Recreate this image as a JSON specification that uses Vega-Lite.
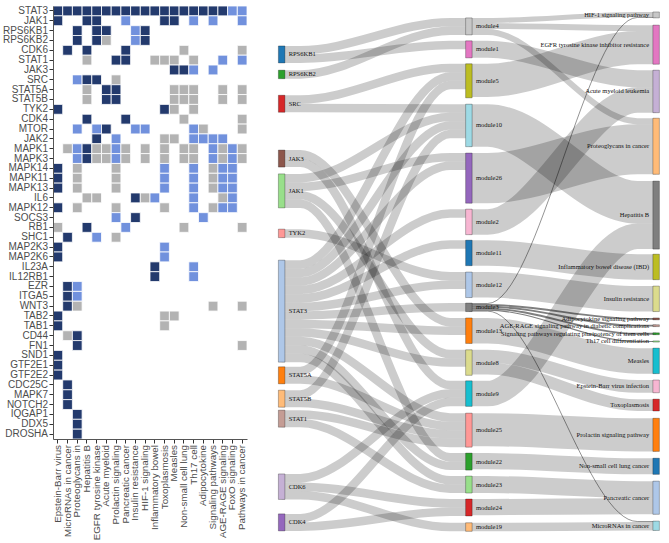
{
"$schema": "https://vega.github.io/schema/vega-lite/v6.json",
"background": "white",
"padding": {"left": 2, "top": 5, "right": 0, "bottom": 0},
"config": {"view": {"stroke": null}},
"bounds": "flush",
"spacing": 15.5,
"resolve": {"scale": {"color": "independent", "x": "independent", "y": "independent", "size": "independent"}},
"datasets": {
"nodes": [
{"n":"RPS6KB1","s":0,"y0":4.7,"y1":6.7},
{"n":"RPS6KB2","s":0,"y0":7.55,"y1":8.55},
{"n":"SRC","s":0,"y0":10.5,"y1":12.5},
{"n":"JAK3","s":0,"y0":16.95,"y1":18.95},
{"n":"JAK1","s":0,"y0":19.75,"y1":23.75},
{"n":"TYK2","s":0,"y0":26.25,"y1":27.25},
{"n":"STAT3","s":0,"y0":29.9,"y1":41.9},
{"n":"STAT5A","s":0,"y0":42.45,"y1":44.45},
{"n":"STAT5B","s":0,"y0":45.2,"y1":47.2},
{"n":"STAT1","s":0,"y0":47.55,"y1":49.55},
{"n":"CDK6","s":0,"y0":55.05,"y1":58.05},
{"n":"CDK4","s":0,"y0":59.75,"y1":61.75},
{"n":"module4","s":1,"y0":1.4,"y1":3.4},
{"n":"module1","s":1,"y0":4.1,"y1":6.1},
{"n":"module5","s":1,"y0":6.8,"y1":10.8},
{"n":"module10","s":1,"y0":11.55,"y1":16.55},
{"n":"module26","s":1,"y0":17.3,"y1":23.2},
{"n":"module2","s":1,"y0":23.9,"y1":26.9},
{"n":"module11","s":1,"y0":27.55,"y1":30.55},
{"n":"module12","s":1,"y0":31.3,"y1":34.3},
{"n":"module3","s":1,"y0":34.95,"y1":35.95},
{"n":"module13","s":1,"y0":36.7,"y1":39.7},
{"n":"module8","s":1,"y0":40.45,"y1":43.45},
{"n":"module9","s":1,"y0":44.1,"y1":47.1},
{"n":"module25","s":1,"y0":47.9,"y1":51.9},
{"n":"module22","s":1,"y0":52.6,"y1":54.6},
{"n":"module23","s":1,"y0":55.3,"y1":57.3},
{"n":"module24","s":1,"y0":58.0,"y1":60.0},
{"n":"module19","s":1,"y0":60.8,"y1":61.8},
{"n":"HIF-1 signaling pathway","s":2,"y0":0.7,"y1":1.4},
{"n":"EGFR tyrosine kinase inhibitor resistance","s":2,"y0":2.25,"y1":6.85},
{"n":"Acute myeloid leukemia","s":2,"y0":7.55,"y1":12.55},
{"n":"Proteoglycans in cancer","s":2,"y0":13.2,"y1":19.8},
{"n":"Hepatitis B","s":2,"y0":20.6,"y1":28.6},
{"n":"Inflammatory bowel disease (IBD)","s":2,"y0":29.2,"y1":32.2},
{"n":"Insulin resistance","s":2,"y0":32.95,"y1":35.95},
{"n":"Adipocytokine signaling pathway","s":2,"y0":36.7,"y1":36.92},
{"n":"AGE-RAGE signaling pathway in diabetic complications","s":2,"y0":37.5,"y1":37.72},
{"n":"Signaling pathways regulating pluripotency of stem cells","s":2,"y0":38.45,"y1":38.67},
{"n":"Th17 cell differentiation","s":2,"y0":39.4,"y1":39.54},
{"n":"Measles","s":2,"y0":40.25,"y1":43.25},
{"n":"Epstein-Barr virus infection","s":2,"y0":44.0,"y1":45.5},
{"n":"Toxoplasmosis","s":2,"y0":46.25,"y1":47.65},
{"n":"Prolactin signaling pathway","s":2,"y0":48.5,"y1":52.4},
{"n":"Non-small cell lung cancer","s":2,"y0":53.2,"y1":55.1},
{"n":"Pancreatic cancer","s":2,"y0":55.9,"y1":59.8},
{"n":"MicroRNAs in cancer","s":2,"y0":60.6,"y1":61.7}
]
},
"hconcat": [
{
"width": 194,
"height": 433,
"data": {"values": [
{"g":"STAT3","p":"Epstein-Barr virus","v":3},{"g":"STAT3","p":"MicroRNAs in cancer","v":3},{"g":"STAT3","p":"Proteoglycans in","v":3},{"g":"STAT3","p":"Hepatitis B","v":3},{"g":"STAT3","p":"EGFR tyrosine kinase","v":3},{"g":"STAT3","p":"Acute myeloid","v":3},{"g":"STAT3","p":"Prolactin signaling","v":3},{"g":"STAT3","p":"Pancreatic cancer","v":3},{"g":"STAT3","p":"Insulin resistance","v":3},{"g":"STAT3","p":"HIF-1 signaling","v":3},{"g":"STAT3","p":"Inflammatory bowel","v":3},{"g":"STAT3","p":"Toxoplasmosis","v":3},{"g":"STAT3","p":"Measles","v":3},{"g":"STAT3","p":"Non-small cell lung","v":3},{"g":"STAT3","p":"Th17 cell","v":3},{"g":"STAT3","p":"Adipocytokine","v":3},{"g":"STAT3","p":"Signaling pathways","v":3},{"g":"STAT3","p":"AGE-RAGE signaling","v":3},{"g":"STAT3","p":"FoxO signaling","v":2},{"g":"STAT3","p":"Pathways in cancer","v":2},
{"g":"JAK1","p":"Epstein-Barr virus","v":3},{"g":"JAK1","p":"Hepatitis B","v":3},{"g":"JAK1","p":"EGFR tyrosine kinase","v":3},{"g":"JAK1","p":"Pancreatic cancer","v":2},{"g":"JAK1","p":"Toxoplasmosis","v":3},{"g":"JAK1","p":"Measles","v":3},{"g":"JAK1","p":"Th17 cell","v":2},{"g":"JAK1","p":"Signaling pathways","v":2},{"g":"JAK1","p":"Pathways in cancer","v":2},
{"g":"RPS6KB1","p":"Proteoglycans in","v":3},{"g":"RPS6KB1","p":"EGFR tyrosine kinase","v":3},{"g":"RPS6KB1","p":"Acute myeloid","v":3},{"g":"RPS6KB1","p":"Insulin resistance","v":2},{"g":"RPS6KB1","p":"HIF-1 signaling","v":3},
{"g":"RPS6KB2","p":"Proteoglycans in","v":3},{"g":"RPS6KB2","p":"EGFR tyrosine kinase","v":3},{"g":"RPS6KB2","p":"Acute myeloid","v":1},{"g":"RPS6KB2","p":"Insulin resistance","v":2},{"g":"RPS6KB2","p":"HIF-1 signaling","v":3},
{"g":"CDK6","p":"MicroRNAs in cancer","v":3},{"g":"CDK6","p":"Hepatitis B","v":3},{"g":"CDK6","p":"Pancreatic cancer","v":3},{"g":"CDK6","p":"Non-small cell lung","v":1},{"g":"CDK6","p":"Pathways in cancer","v":1},
{"g":"STAT1","p":"Hepatitis B","v":1},{"g":"STAT1","p":"Prolactin signaling","v":3},{"g":"STAT1","p":"Pancreatic cancer","v":3},{"g":"STAT1","p":"Inflammatory bowel","v":1},{"g":"STAT1","p":"Toxoplasmosis","v":1},{"g":"STAT1","p":"Measles","v":1},{"g":"STAT1","p":"Th17 cell","v":1},{"g":"STAT1","p":"AGE-RAGE signaling","v":2},{"g":"STAT1","p":"Pathways in cancer","v":2},
{"g":"JAK3","p":"Measles","v":3},{"g":"JAK3","p":"Non-small cell lung","v":3},{"g":"JAK3","p":"Th17 cell","v":2},{"g":"JAK3","p":"Signaling pathways","v":2},
{"g":"SRC","p":"Proteoglycans in","v":2},{"g":"SRC","p":"Hepatitis B","v":3},{"g":"SRC","p":"EGFR tyrosine kinase","v":3},{"g":"SRC","p":"Prolactin signaling","v":1},
{"g":"STAT5A","p":"Hepatitis B","v":1},{"g":"STAT5A","p":"Acute myeloid","v":3},{"g":"STAT5A","p":"Prolactin signaling","v":3},{"g":"STAT5A","p":"Measles","v":1},{"g":"STAT5A","p":"Non-small cell lung","v":1},{"g":"STAT5A","p":"Th17 cell","v":1},{"g":"STAT5A","p":"AGE-RAGE signaling","v":1},{"g":"STAT5A","p":"Pathways in cancer","v":1},
{"g":"STAT5B","p":"Hepatitis B","v":1},{"g":"STAT5B","p":"Acute myeloid","v":3},{"g":"STAT5B","p":"Prolactin signaling","v":3},{"g":"STAT5B","p":"Measles","v":1},{"g":"STAT5B","p":"Non-small cell lung","v":1},{"g":"STAT5B","p":"Th17 cell","v":1},{"g":"STAT5B","p":"AGE-RAGE signaling","v":1},{"g":"STAT5B","p":"Pathways in cancer","v":1},
{"g":"TYK2","p":"Epstein-Barr virus","v":3},{"g":"TYK2","p":"Toxoplasmosis","v":3},{"g":"TYK2","p":"Measles","v":1},{"g":"TYK2","p":"Th17 cell","v":1},
{"g":"CDK4","p":"Hepatitis B","v":3},{"g":"CDK4","p":"Pancreatic cancer","v":3},{"g":"CDK4","p":"Non-small cell lung","v":1},{"g":"CDK4","p":"Pathways in cancer","v":1},
{"g":"MTOR","p":"Proteoglycans in","v":2},{"g":"MTOR","p":"EGFR tyrosine kinase","v":2},{"g":"MTOR","p":"Acute myeloid","v":3},{"g":"MTOR","p":"Insulin resistance","v":2},{"g":"MTOR","p":"HIF-1 signaling","v":2},{"g":"MTOR","p":"Th17 cell","v":2},{"g":"MTOR","p":"Adipocytokine","v":1},{"g":"MTOR","p":"Pathways in cancer","v":1},
{"g":"JAK2","p":"EGFR tyrosine kinase","v":3},{"g":"JAK2","p":"Prolactin signaling","v":2},{"g":"JAK2","p":"Toxoplasmosis","v":1},{"g":"JAK2","p":"Measles","v":1},{"g":"JAK2","p":"Th17 cell","v":2},{"g":"JAK2","p":"Adipocytokine","v":2},{"g":"JAK2","p":"Signaling pathways","v":2},{"g":"JAK2","p":"AGE-RAGE signaling","v":2},
{"g":"MAPK1","p":"MicroRNAs in cancer","v":1},{"g":"MAPK1","p":"Proteoglycans in","v":2},{"g":"MAPK1","p":"Hepatitis B","v":3},{"g":"MAPK1","p":"EGFR tyrosine kinase","v":1},{"g":"MAPK1","p":"Acute myeloid","v":1},{"g":"MAPK1","p":"Prolactin signaling","v":2},{"g":"MAPK1","p":"Pancreatic cancer","v":1},{"g":"MAPK1","p":"HIF-1 signaling","v":1},{"g":"MAPK1","p":"Toxoplasmosis","v":1},{"g":"MAPK1","p":"Non-small cell lung","v":1},{"g":"MAPK1","p":"Th17 cell","v":1},{"g":"MAPK1","p":"Signaling pathways","v":2},{"g":"MAPK1","p":"AGE-RAGE signaling","v":1},{"g":"MAPK1","p":"FoxO signaling","v":2},{"g":"MAPK1","p":"Pathways in cancer","v":1},
{"g":"MAPK3","p":"Proteoglycans in","v":2},{"g":"MAPK3","p":"Hepatitis B","v":3},{"g":"MAPK3","p":"EGFR tyrosine kinase","v":1},{"g":"MAPK3","p":"Acute myeloid","v":1},{"g":"MAPK3","p":"Prolactin signaling","v":2},{"g":"MAPK3","p":"Pancreatic cancer","v":1},{"g":"MAPK3","p":"HIF-1 signaling","v":1},{"g":"MAPK3","p":"Toxoplasmosis","v":1},{"g":"MAPK3","p":"Non-small cell lung","v":1},{"g":"MAPK3","p":"Th17 cell","v":1},{"g":"MAPK3","p":"Signaling pathways","v":2},{"g":"MAPK3","p":"AGE-RAGE signaling","v":1},{"g":"MAPK3","p":"FoxO signaling","v":2},{"g":"MAPK3","p":"Pathways in cancer","v":1},
{"g":"MAPK14","p":"Epstein-Barr virus","v":3},{"g":"MAPK14","p":"Proteoglycans in","v":1},{"g":"MAPK14","p":"Prolactin signaling","v":1},{"g":"MAPK14","p":"Toxoplasmosis","v":2},{"g":"MAPK14","p":"Th17 cell","v":2},{"g":"MAPK14","p":"Signaling pathways","v":1},{"g":"MAPK14","p":"AGE-RAGE signaling","v":2},{"g":"MAPK14","p":"FoxO signaling","v":2},
{"g":"MAPK11","p":"Epstein-Barr virus","v":3},{"g":"MAPK11","p":"Proteoglycans in","v":1},{"g":"MAPK11","p":"Prolactin signaling","v":1},{"g":"MAPK11","p":"Toxoplasmosis","v":2},{"g":"MAPK11","p":"Th17 cell","v":2},{"g":"MAPK11","p":"Signaling pathways","v":1},{"g":"MAPK11","p":"AGE-RAGE signaling","v":2},{"g":"MAPK11","p":"FoxO signaling","v":2},
{"g":"MAPK13","p":"Epstein-Barr virus","v":3},{"g":"MAPK13","p":"Proteoglycans in","v":1},{"g":"MAPK13","p":"Prolactin signaling","v":1},{"g":"MAPK13","p":"Toxoplasmosis","v":2},{"g":"MAPK13","p":"Th17 cell","v":2},{"g":"MAPK13","p":"Signaling pathways","v":1},{"g":"MAPK13","p":"AGE-RAGE signaling","v":2},{"g":"MAPK13","p":"FoxO signaling","v":2},
{"g":"IL6","p":"Hepatitis B","v":1},{"g":"IL6","p":"EGFR tyrosine kinase","v":1},{"g":"IL6","p":"Insulin resistance","v":3},{"g":"IL6","p":"HIF-1 signaling","v":1},{"g":"IL6","p":"Inflammatory bowel","v":2},{"g":"IL6","p":"Th17 cell","v":2},{"g":"IL6","p":"AGE-RAGE signaling","v":1},{"g":"IL6","p":"FoxO signaling","v":2},
{"g":"MAPK12","p":"Epstein-Barr virus","v":3},{"g":"MAPK12","p":"Proteoglycans in","v":1},{"g":"MAPK12","p":"Prolactin signaling","v":1},{"g":"MAPK12","p":"Toxoplasmosis","v":1},{"g":"MAPK12","p":"Th17 cell","v":2},{"g":"MAPK12","p":"Signaling pathways","v":1},{"g":"MAPK12","p":"AGE-RAGE signaling","v":2},{"g":"MAPK12","p":"FoxO signaling","v":2},
{"g":"SOCS3","p":"Prolactin signaling","v":2},{"g":"SOCS3","p":"Insulin resistance","v":3},{"g":"SOCS3","p":"Adipocytokine","v":2},
{"g":"RB1","p":"Epstein-Barr virus","v":1},{"g":"RB1","p":"Hepatitis B","v":3},{"g":"RB1","p":"Pancreatic cancer","v":2},{"g":"RB1","p":"Non-small cell lung","v":1},{"g":"RB1","p":"Pathways in cancer","v":1},
{"g":"SHC1","p":"MicroRNAs in cancer","v":3},{"g":"SHC1","p":"EGFR tyrosine kinase","v":2},{"g":"SHC1","p":"Prolactin signaling","v":1},
{"g":"MAP2K3","p":"Epstein-Barr virus","v":3},{"g":"MAP2K3","p":"Toxoplasmosis","v":2},
{"g":"MAP2K6","p":"Epstein-Barr virus","v":3},{"g":"MAP2K6","p":"Toxoplasmosis","v":2},
{"g":"IL23A","p":"Inflammatory bowel","v":3},{"g":"IL23A","p":"Th17 cell","v":2},
{"g":"IL12RB1","p":"Inflammatory bowel","v":3},{"g":"IL12RB1","p":"Th17 cell","v":2},
{"g":"EZR","p":"MicroRNAs in cancer","v":3},{"g":"EZR","p":"Proteoglycans in","v":2},
{"g":"ITGA5","p":"MicroRNAs in cancer","v":3},{"g":"ITGA5","p":"Proteoglycans in","v":2},
{"g":"WNT3","p":"MicroRNAs in cancer","v":3},{"g":"WNT3","p":"Proteoglycans in","v":1},{"g":"WNT3","p":"Signaling pathways","v":1},{"g":"WNT3","p":"Pathways in cancer","v":1},
{"g":"TAB2","p":"Epstein-Barr virus","v":3},{"g":"TAB2","p":"Toxoplasmosis","v":1},{"g":"TAB2","p":"Measles","v":1},
{"g":"TAB1","p":"Epstein-Barr virus","v":3},{"g":"TAB1","p":"Toxoplasmosis","v":1},
{"g":"CD44","p":"MicroRNAs in cancer","v":1},{"g":"CD44","p":"Proteoglycans in","v":3},
{"g":"FN1","p":"Proteoglycans in","v":3},{"g":"FN1","p":"Pathways in cancer","v":1},
{"g":"SND1","p":"Epstein-Barr virus","v":3},
{"g":"GTF2E1","p":"Epstein-Barr virus","v":3},
{"g":"GTF2E2","p":"Epstein-Barr virus","v":3},
{"g":"CDC25C","p":"MicroRNAs in cancer","v":3},
{"g":"MAPK7","p":"MicroRNAs in cancer","v":3},
{"g":"NOTCH2","p":"MicroRNAs in cancer","v":3},
{"g":"IQGAP1","p":"Proteoglycans in","v":3},
{"g":"DDX5","p":"Proteoglycans in","v":3},
{"g":"DROSHA","p":"Proteoglycans in","v":3}
]},
"mark": {"type": "rect", "stroke": "white", "strokeWidth": 0.8},
"encoding": {
"x": {"field": "p", "type": "nominal",
"scale": {"domain": ["Epstein-Barr virus","MicroRNAs in cancer","Proteoglycans in","Hepatitis B","EGFR tyrosine kinase","Acute myeloid","Prolactin signaling","Pancreatic cancer","Insulin resistance","HIF-1 signaling","Inflammatory bowel","Toxoplasmosis","Measles","Non-small cell lung","Th17 cell","Adipocytokine","Signaling pathways","AGE-RAGE signaling","FoxO signaling","Pathways in cancer"], "paddingInner": 0, "paddingOuter": 0},
"axis": {"title": null, "labelAngle": 270, "labelFont": "Liberation Sans", "labelFontSize": 9.8, "labelColor": "#4d4d4d", "tickColor": "#333333", "tickSize": 4, "labelPadding": 1.5, "domainColor": "#555555", "labelOverlap": false}},
"y": {"field": "g", "type": "nominal",
"scale": {"domain": ["STAT3","JAK1","RPS6KB1","RPS6KB2","CDK6","STAT1","JAK3","SRC","STAT5A","STAT5B","TYK2","CDK4","MTOR","JAK2","MAPK1","MAPK3","MAPK14","MAPK11","MAPK13","IL6","MAPK12","SOCS3","RB1","SHC1","MAP2K3","MAP2K6","IL23A","IL12RB1","EZR","ITGA5","WNT3","TAB2","TAB1","CD44","FN1","SND1","GTF2E1","GTF2E2","CDC25C","MAPK7","NOTCH2","IQGAP1","DDX5","DROSHA"], "paddingInner": 0, "paddingOuter": 0},
"axis": {"title": null, "labelFont": "Liberation Sans", "labelFontSize": 10, "labelColor": "#4d4d4d", "tickColor": "#333333", "tickSize": 4, "labelPadding": 1.5, "domainColor": "#555555", "labelOverlap": false}},
"color": {"field": "v", "type": "ordinal", "scale": {"domain": [1, 2, 3], "range": ["#b3b3b3", "#7191dd", "#233a6d"]}, "legend": null}
}
},
{
"width": 405,
"height": 527,
"layer": [
{
"data": {"values": [
{"l":"RPS6KB1-module4","w":1,"x":[0,0.1,0.9,1],"y":[5.2,5.2,1.9,1.9]},
{"l":"RPS6KB1-module1","w":1,"x":[0,0.1,0.9,1],"y":[6.2,6.2,4.6,4.6]},
{"l":"RPS6KB2-module4","w":1,"x":[0,0.1,0.9,1],"y":[8.05,8.05,2.9,2.9]},
{"l":"SRC-module5","w":1,"x":[0,0.1,0.9,1],"y":[11,11,7.3,7.3]},
{"l":"SRC-module10","w":1,"x":[0,0.1,0.9,1],"y":[12,12,12.05,12.05]},
{"l":"JAK3-module13","w":1,"x":[0,0.1,0.9,1],"y":[17.45,17.45,37.2,37.2]},
{"l":"JAK3-module9","w":1,"x":[0,0.1,0.9,1],"y":[18.45,18.45,44.6,44.6]},
{"l":"JAK1-module10","w":1,"x":[0,0.1,0.9,1],"y":[20.25,20.25,13.05,13.05]},
{"l":"JAK1-module26","w":1,"x":[0,0.1,0.9,1],"y":[21.25,21.25,17.8,17.8]},
{"l":"JAK1-module8","w":1,"x":[0,0.1,0.9,1],"y":[22.25,22.25,40.95,40.95]},
{"l":"JAK1-module22","w":1,"x":[0,0.1,0.9,1],"y":[23.25,23.25,53.1,53.1]},
{"l":"TYK2-module12","w":1,"x":[0,0.1,0.9,1],"y":[26.75,26.75,31.8,31.8]},
{"l":"STAT3-module5","w":1,"x":[0,0.1,0.9,1],"y":[30.4,30.4,8.3,8.3]},
{"l":"STAT3-module10","w":1,"x":[0,0.1,0.9,1],"y":[31.4,31.4,14.05,14.05]},
{"l":"STAT3-module26","w":1,"x":[0,0.1,0.9,1],"y":[32.4,32.4,18.8,18.8]},
{"l":"STAT3-module2","w":1,"x":[0,0.1,0.9,1],"y":[33.4,33.4,24.4,24.4]},
{"l":"STAT3-module11","w":1,"x":[0,0.1,0.9,1],"y":[34.4,34.4,28.05,28.05]},
{"l":"STAT3-module12","w":1,"x":[0,0.1,0.9,1],"y":[35.4,35.4,32.8,32.8]},
{"l":"STAT3-module3","w":1,"x":[0,0.1,0.9,1],"y":[36.4,36.4,35.45,35.45]},
{"l":"STAT3-module13","w":1,"x":[0,0.1,0.9,1],"y":[37.4,37.4,38.2,38.2]},
{"l":"STAT3-module8","w":1,"x":[0,0.1,0.9,1],"y":[38.4,38.4,41.95,41.95]},
{"l":"STAT3-module25","w":1,"x":[0,0.1,0.9,1],"y":[39.4,39.4,48.4,48.4]},
{"l":"STAT3-module22","w":1,"x":[0,0.1,0.9,1],"y":[40.4,40.4,54.1,54.1]},
{"l":"STAT3-module23","w":1,"x":[0,0.1,0.9,1],"y":[41.4,41.4,55.8,55.8]},
{"l":"STAT5A-module5","w":1,"x":[0,0.1,0.9,1],"y":[42.95,42.95,9.3,9.3]},
{"l":"STAT5A-module25","w":1,"x":[0,0.1,0.9,1],"y":[43.95,43.95,49.4,49.4]},
{"l":"STAT5B-module10","w":1,"x":[0,0.1,0.9,1],"y":[45.7,45.7,15.05,15.05]},
{"l":"STAT5B-module25","w":1,"x":[0,0.1,0.9,1],"y":[46.7,46.7,50.4,50.4]},
{"l":"STAT1-module25","w":1,"x":[0,0.1,0.9,1],"y":[48.05,48.05,51.4,51.4]},
{"l":"STAT1-module23","w":1,"x":[0,0.1,0.9,1],"y":[49.05,49.05,56.8,56.8]},
{"l":"CDK6-module9","w":1,"x":[0,0.1,0.9,1],"y":[55.55,55.55,45.6,45.6]},
{"l":"CDK6-module24","w":1,"x":[0,0.1,0.9,1],"y":[56.55,56.55,58.5,58.5]},
{"l":"CDK6-module19","w":1,"x":[0,0.1,0.9,1],"y":[57.55,57.55,61.3,61.3]},
{"l":"CDK4-module9","w":1,"x":[0,0.1,0.9,1],"y":[60.25,60.25,46.6,46.6]},
{"l":"CDK4-module24","w":1,"x":[0,0.1,0.9,1],"y":[61.25,61.25,59.5,59.5]},
{"l":"module4-HIF","w":0.6,"x":[1,1.1,1.9,2],"y":[1.7,1.7,1.0,1.0]},
{"l":"module4-EGFR","w":0.7,"x":[1,1.1,1.9,2],"y":[2.35,2.35,2.6,2.6]},
{"l":"module4-Proteoglycans","w":0.7,"x":[1,1.1,1.9,2],"y":[3.05,3.05,13.55,13.55]},
{"l":"module1-AML","w":2,"x":[1,1.1,1.9,2],"y":[5.1,5.1,8.55,8.55]},
{"l":"module5-EGFR","w":3.9,"x":[1,1.1,1.9,2],"y":[8.75,8.75,4.9,4.9]},
{"l":"module10-HepB","w":5,"x":[1,1.1,1.9,2],"y":[14.05,14.05,23.1,23.1]},
{"l":"module26-Proteoglycans","w":5.9,"x":[1,1.1,1.9,2],"y":[20.25,20.25,16.85,16.85]},
{"l":"module2-AML","w":3,"x":[1,1.1,1.9,2],"y":[25.4,25.4,11.05,11.05]},
{"l":"module11-IBD","w":3,"x":[1,1.1,1.9,2],"y":[29.05,29.05,30.7,30.7]},
{"l":"module12-Insulin","w":3,"x":[1,1.1,1.9,2],"y":[32.8,32.8,34.45,34.45]},
{"l":"module3-HIF","w":0.1,"x":[1,1.1,1.9,2],"y":[35.0,35.0,1.35,1.35]},
{"l":"module3-Adipocytokine","w":0.22,"x":[1,1.1,1.9,2],"y":[35.16,35.16,36.81,36.81]},
{"l":"module3-AGE-RAGE","w":0.22,"x":[1,1.1,1.9,2],"y":[35.38,35.38,37.61,37.61]},
{"l":"module3-Pluripotency","w":0.22,"x":[1,1.1,1.9,2],"y":[35.6,35.6,38.56,38.56]},
{"l":"module3-Th17","w":0.14,"x":[1,1.1,1.9,2],"y":[35.78,35.78,39.47,39.47]},
{"l":"module3-MicroRNAs","w":0.1,"x":[1,1.1,1.9,2],"y":[35.9,35.9,60.65,60.65]},
{"l":"module13-Measles","w":3,"x":[1,1.1,1.9,2],"y":[38.2,38.2,41.75,41.75]},
{"l":"module8-EBV","w":1.5,"x":[1,1.1,1.9,2],"y":[41.2,41.2,44.75,44.75]},
{"l":"module8-Toxoplasmosis","w":1.4,"x":[1,1.1,1.9,2],"y":[42.65,42.65,46.95,46.95]},
{"l":"module9-HepB","w":3,"x":[1,1.1,1.9,2],"y":[45.6,45.6,27.1,27.1]},
{"l":"module25-Prolactin","w":3.9,"x":[1,1.1,1.9,2],"y":[49.85,49.85,50.45,50.45]},
{"l":"module22-NSCLC","w":1.9,"x":[1,1.1,1.9,2],"y":[53.55,53.55,54.15,54.15]},
{"l":"module23-Pancreatic","w":2,"x":[1,1.1,1.9,2],"y":[56.3,56.3,56.9,56.9]},
{"l":"module24-Pancreatic","w":1.9,"x":[1,1.1,1.9,2],"y":[58.95,58.95,58.85,58.85]},
{"l":"module19-MicroRNAs","w":1,"x":[1,1.1,1.9,2],"y":[61.3,61.3,61.2,61.2]}
]},
"transform": [{"flatten": ["x", "y"]}],
"mark": {"type": "line", "interpolate": "monotone", "stroke": "#000000", "strokeCap": "butt", "strokeJoin": "round", "clip": true},
"encoding": {
"x": {"field": "x", "type": "quantitative", "scale": {"domain": [-0.0755, 2.034], "nice": false, "zero": false}, "axis": null},
"y": {"field": "y", "type": "quantitative", "scale": {"domain": [0, 62], "reverse": true, "nice": false, "zero": false}, "axis": null},
"detail": {"field": "l", "type": "nominal"},
"size": {"field": "w", "type": "quantitative", "scale": {"type": "linear", "domain": [0, 1], "range": [0, 8.5]}, "legend": null},
"strokeOpacity": {"condition": {"test": "datum.w < 0.5", "value": 0.5}, "value": 0.2}
}
},
{
"data": {"name": "nodes"},
"mark": {"type": "bar", "width": 6.5, "stroke": "#000000", "strokeOpacity": 0.35, "strokeWidth": 0.8},
"encoding": {
"x": {"field": "s", "type": "quantitative", "scale": {"domain": [-0.0755, 2.034], "nice": false, "zero": false}, "axis": null},
"y": {"field": "y0", "type": "quantitative", "scale": {"domain": [0, 62], "reverse": true, "nice": false, "zero": false}, "axis": null},
"y2": {"field": "y1"},
"color": {"field": "n", "type": "nominal", "legend": null,
"scale": {"domain": ["RPS6KB1","RPS6KB2","SRC","JAK3","JAK1","TYK2","STAT3","STAT5A","STAT5B","STAT1","CDK6","CDK4","module4","module1","module5","module10","module26","module2","module11","module12","module3","module13","module8","module9","module25","module22","module23","module24","module19","HIF-1 signaling pathway","EGFR tyrosine kinase inhibitor resistance","Acute myeloid leukemia","Proteoglycans in cancer","Hepatitis B","Inflammatory bowel disease (IBD)","Insulin resistance","Adipocytokine signaling pathway","AGE-RAGE signaling pathway in diabetic complications","Signaling pathways regulating pluripotency of stem cells","Th17 cell differentiation","Measles","Epstein-Barr virus infection","Toxoplasmosis","Prolactin signaling pathway","Non-small cell lung cancer","Pancreatic cancer","MicroRNAs in cancer"],
"range": ["#1f77b4","#2ca02c","#d62728","#8c564b","#98df8a","#ff9896","#aec7e8","#ff7f0e","#ffbb78","#c49c94","#c5b0d5","#9467bd","#c7c7c7","#e377c2","#bcbd22","#9edae5","#9467bd","#f7b6d2","#1f77b4","#aec7e8","#7f7f7f","#ff7f0e","#dbdb8d","#17becf","#ff9896","#2ca02c","#98df8a","#d62728","#ffbb78","#c7c7c7","#e377c2","#c5b0d5","#ffbb78","#7f7f7f","#bcbd22","#dbdb8d","#8c564b","#c49c94","#2ca02c","#98df8a","#17becf","#f7b6d2","#d62728","#ff7f0e","#1f77b4","#aec7e8","#9edae5"]}}
}
},
{
"data": {"name": "nodes"},
"transform": [{"filter": "datum.s < 2"}, {"fold": ["y0", "y1"], "as": ["k", "yy"]}],
"mark": {"type": "text", "align": "left", "baseline": "middle", "dx": 7, "font": "Liberation Serif", "fontSize": 6.5, "color": "#111111"},
"encoding": {
"x": {"field": "s", "type": "quantitative", "scale": {"domain": [-0.0755, 2.034], "nice": false, "zero": false}, "axis": null},
"y": {"field": "yy", "aggregate": "mean", "type": "quantitative", "scale": {"domain": [0, 62], "reverse": true, "nice": false, "zero": false}, "axis": null},
"text": {"field": "n", "type": "nominal"}
}
},
{
"data": {"name": "nodes"},
"transform": [{"filter": "datum.s == 2"}, {"fold": ["y0", "y1"], "as": ["k", "yy"]}],
"mark": {"type": "text", "align": "right", "baseline": "middle", "dx": -7, "font": "Liberation Serif", "fontSize": 6.5, "color": "#111111"},
"encoding": {
"x": {"field": "s", "type": "quantitative", "scale": {"domain": [-0.0755, 2.034], "nice": false, "zero": false}, "axis": null},
"y": {"field": "yy", "aggregate": "mean", "type": "quantitative", "scale": {"domain": [0, 62], "reverse": true, "nice": false, "zero": false}, "axis": null},
"text": {"field": "n", "type": "nominal"}
}
}
]
}
]
}
